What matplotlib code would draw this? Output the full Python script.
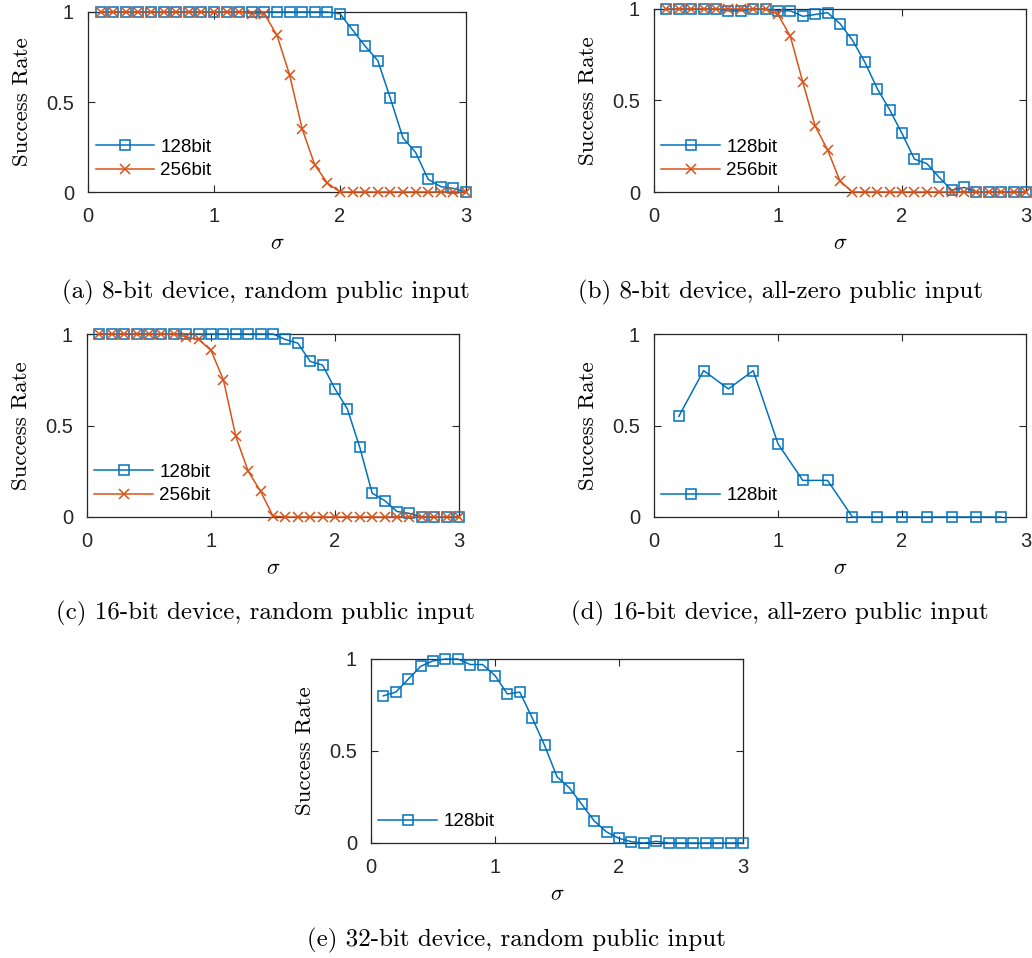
import numpy as np
import matplotlib
matplotlib.use("Agg")
import matplotlib.pyplot as plt

plt.rcParams['mathtext.fontset'] = 'cm'
plt.rcParams['font.family'] = ['Liberation Sans', 'DejaVu Sans']

# sigma grid
sig = [round(0.1 * i, 1) for i in range(1, 31)]
sig_d = [0.2, 0.4, 0.6, 0.8, 1.0, 1.2, 1.4, 1.6, 1.8, 2.0, 2.2, 2.4, 2.6, 2.8]

# (a) 8-bit, random public input
a_128 = [1, 1, 1, 1, 1, 1, 1, 1, 1, 1, 1, 1, 1, 1, 1, 1, 1, 1, 1, 0.99,
         0.90, 0.81, 0.73, 0.52, 0.30, 0.22, 0.07, 0.03, 0.02, 0]
a_256 = [1, 1, 1, 1, 1, 1, 1, 1, 1, 1, 1, 1, 0.99, 0.99, 0.87, 0.65, 0.35, 0.15, 0.05, 0,
         0, 0, 0, 0, 0, 0, 0, 0, 0, 0]

# (b) 8-bit, all-zero public input
b_128 = [1, 1, 1, 1, 1, 0.99, 0.99, 1, 1, 0.99, 0.99, 0.96, 0.97, 0.98, 0.92, 0.83, 0.71, 0.565, 0.45, 0.32,
         0.18, 0.155, 0.08, 0.01, 0.025, 0, 0, 0, 0, 0]
b_256 = [1, 1, 1, 1, 1, 1, 1, 1, 1, 0.97, 0.85, 0.60, 0.36, 0.23, 0.06, 0, 0, 0, 0, 0,
         0, 0, 0, 0, 0, 0, 0, 0, 0, 0]

# (c) 16-bit, random public input
c_128 = [1, 1, 1, 1, 1, 1, 1, 1, 1, 1, 1, 1, 1, 1, 1, 0.97, 0.95, 0.85, 0.83, 0.70,
         0.59, 0.38, 0.13, 0.09, 0.03, 0.02, 0, 0, 0, 0]
c_256 = [1, 1, 1, 1, 1, 1, 1, 0.985, 0.97, 0.91, 0.75, 0.44, 0.25, 0.14, 0.005, 0, 0, 0, 0, 0,
         0, 0, 0, 0, 0, 0, 0, 0, 0, 0]

# (d) 16-bit, all-zero public input
d_128 = [0.55, 0.80, 0.70, 0.80, 0.40, 0.20, 0.20, 0, 0, 0, 0, 0, 0, 0]

# (e) 32-bit, random public input
e_128 = [0.80, 0.82, 0.89, 0.96, 0.99, 1.0, 1.0, 0.97, 0.97, 0.91, 0.81, 0.82, 0.68, 0.53, 0.36,
         0.30, 0.21, 0.12, 0.06, 0.025, 0.007, 0, 0.009, 0, 0, 0, 0, 0, 0, 0]

captions = ["(a) 8-bit device, random public input",
            "(b) 8-bit device, all-zero public input",
            "(c) 16-bit device, random public input",
            "(d) 16-bit device, all-zero public input",
            "(e) 32-bit device, random public input"]

blue = '#0072BD'
red = '#D95319'

W, H = 1032, 958
fig = plt.figure(figsize=(W / 100, H / 100), dpi=100)


def px_axes(left, top, right, bottom):
    return fig.add_axes([left / W, 1 - bottom / H, (right - left) / W, (bottom - top) / H])


def panel(ax, series):
    for x, y, lab, col, mk in series:
        ax.plot(x, y, color=col, marker=mk, lw=1.1, ms=7 if mk == 's' else 6.5,
                mfc='none', mew=1.1, label=lab, clip_on=False, zorder=3)
    ax.set_xlim(0, 3)
    ax.set_ylim(0, 1)
    ax.set_xticks([0, 1, 2, 3])
    ax.set_yticks([0, 0.5, 1])
    ax.set_yticklabels(['0', '0.5', '1'])
    ax.tick_params(direction='in', top=True, right=True, length=5, width=0.8,
                   color='#262626', labelsize=14.5, labelcolor='#262626')
    ax.tick_params(axis='x', pad=11)
    ax.tick_params(axis='y', pad=10)
    for s in ax.spines.values():
        s.set_color('#262626')
        s.set_linewidth(0.9)
    ax.set_xlabel(r'$\sigma$', fontsize=16, labelpad=5)
    ax.set_ylabel('Success Rate', family='cmr10', fontsize=16.5, labelpad=10)
    ax.legend(loc='lower left', bbox_to_anchor=(0.02, 0.07), frameon=False, fontsize=13.5,
              handlelength=3.1, handletextpad=0.35, labelspacing=0.35, borderpad=0,
              borderaxespad=0)


ax_a = px_axes(88, 12, 466, 192)
panel(ax_a, [(sig, a_128, '128bit', blue, 's'), (sig, a_256, '256bit', red, 'x')])
ax_b = px_axes(654, 9, 1026, 192)
panel(ax_b, [(sig, b_128, '128bit', blue, 's'), (sig, b_256, '256bit', red, 'x')])
ax_c = px_axes(87, 334, 459, 517)
panel(ax_c, [(sig, c_128, '128bit', blue, 's'), (sig, c_256, '256bit', red, 'x')])
ax_d = px_axes(654, 334, 1026, 517)
panel(ax_d, [(sig_d, d_128, '128bit', blue, 's')])
ax_e = px_axes(371, 659, 743, 843)
panel(ax_e, [(sig, e_128, '128bit', blue, 's')])

cap_pos = [(266, 292), (780, 292), (266, 613), (780, 613), (516, 940)]
for (cx, cy), txt in zip(cap_pos, captions):
    fig.text(cx / W, 1 - cy / H, txt, family='cmr10', fontsize=18, ha='center', va='center')

fig.savefig('out.png', dpi=100)
